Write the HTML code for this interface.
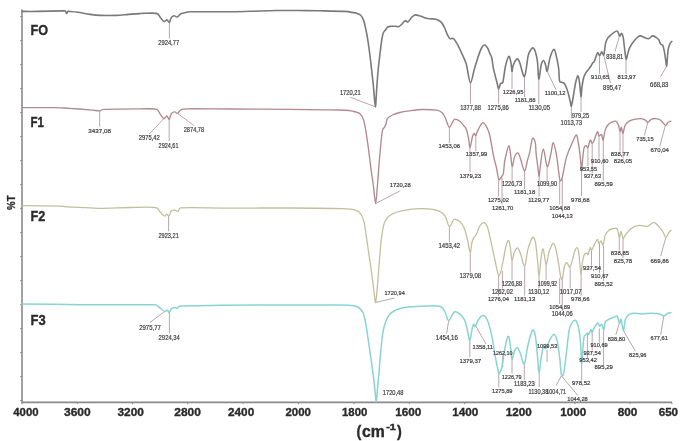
<!DOCTYPE html><html><head><meta charset="utf-8"><style>html,body{margin:0;padding:0;background:#fff;}svg{display:block;filter:blur(0.55px);}text{font-family:"Liberation Sans",sans-serif;}</style></head><body>
<svg width="685" height="441" viewBox="0 0 685 441">
<rect width="685" height="441" fill="#fff"/>
<path d="M22,9.5 L22,402.4 L672,402.4" fill="none" stroke="#8a8a8a" stroke-width="1.6"/>
<path d="M20.2,16.6 L22,16.6 M20.2,40.6 L22,40.6 M20.2,64.6 L22,64.6 M20.2,88.6 L22,88.6 M20.2,112.6 L22,112.6 M20.2,136.6 L22,136.6 M20.2,160.6 L22,160.6 M20.2,184.6 L22,184.6 M20.2,208.6 L22,208.6 M20.2,232.6 L22,232.6 M20.2,256.6 L22,256.6 M20.2,280.6 L22,280.6 M20.2,304.6 L22,304.6 M20.2,328.6 L22,328.6 M20.2,352.6 L22,352.6 M20.2,376.6 L22,376.6 M20.2,400.6 L22,400.6" stroke="#8a8a8a" stroke-width="1"/>
<path d="M22.0,402.4 L22.0,404.2 M77.2,402.4 L77.2,404.2 M132.4,402.4 L132.4,404.2 M187.6,402.4 L187.6,404.2 M243.0,402.4 L243.0,404.2 M298.5,402.4 L298.5,404.2 M354.0,402.4 L354.0,404.2 M409.3,402.4 L409.3,404.2 M464.6,402.4 L464.6,404.2 M519.8,402.4 L519.8,404.2 M575.0,402.4 L575.0,404.2 M630.1,402.4 L630.1,404.2 M671.9,402.4 L671.9,404.2" stroke="#8a8a8a" stroke-width="1"/>
<path d="M169.4,22.4 L169.4,38.5 M350.4,97.3 L375.3,106.8 M470.5,83.0 L470.5,103.7 M498.6,89.0 L498.6,103.7 M512.0,71.4 L512.0,89.0 M524.5,76.5 L524.5,97.0 M538.8,79.0 L538.8,104.0 M547.1,71.1 L555.9,89.4 M581.0,96.5 L581.0,112.0 M571.4,106.0 L571.4,118.5 M599.5,56.0 L599.5,74.0 M603.9,56.0 L610.4,83.1 M619.1,37.3 L615.0,51.6 M626.0,58.6 L626.0,74.0 M666.7,66.0 L660.4,77.1 M99.7,110.8 L99.7,126.5 M163.7,118.7 L149.3,134.0 M169.2,119.3 L169.2,141.0 M177.5,113.4 L194.2,125.8 M375.6,203.5 L399.8,191.0 M449.4,127.2 L449.4,143.0 M475.8,135.5 L475.8,151.0 M470.0,147.5 L470.0,172.5 M498.6,179.0 L498.6,196.5 M502.0,176.5 L502.0,204.4 M512.1,166.4 L512.1,181.0 M524.6,171.0 L524.6,189.0 M539.1,177.0 L539.1,196.5 M547.1,166.4 L547.1,181.0 M559.7,180.0 L559.7,204.4 M562.3,179.0 L562.3,212.5 M581.5,170.0 L581.5,196.0 M587.9,147.5 L587.9,166.0 M592.2,143.4 L592.2,173.5 M599.0,135.9 L599.0,158.5 M603.3,139.6 L603.3,181.0 M620.0,131.4 L620.0,151.5 M623.0,133.5 L623.0,158.5 M647.9,122.2 L644.4,135.5 M665.4,125.3 L659.7,146.7 M168.6,216.0 L168.6,231.1 M375.6,302.5 L394.4,298.0 M449.4,226.7 L449.4,242.0 M470.3,252.8 L470.3,272.5 M512.0,260.1 L512.0,280.0 M502.4,271.0 L502.4,288.5 M498.6,275.0 L498.6,296.0 M524.7,266.2 L524.7,295.5 M539.0,277.0 L539.0,288.5 M546.1,264.2 L546.1,280.0 M570.2,268.3 L570.2,288.5 M581.1,274.0 L581.1,296.0 M559.7,278.0 L559.7,304.0 M562.3,278.0 L562.3,311.0 M591.5,250.4 L591.5,265.5 M599.5,243.6 L599.5,273.0 M603.6,245.8 L603.6,281.0 M619.3,237.6 L619.3,250.5 M623.0,238.6 L623.0,258.0 M665.8,237.6 L660.7,256.0 M164.8,311.4 L149.7,322.6 M169.4,312.7 L169.4,333.1 M448.7,320.6 L446.6,333.5 M469.8,340.4 L469.8,357.0 M476.0,326.5 L486.0,344.0 M502.7,367.2 L502.7,355.5 M512.0,359.1 L512.0,373.5 M524.3,364.2 L524.3,380.0 M498.8,373.4 L498.8,387.5 M539.2,372.3 L539.2,387.0 M547.1,350.0 L547.1,362.0 M561.4,375.8 L556.1,385.6 M561.4,375.8 L577.8,395.5 M581.7,366.0 L581.7,380.5 M587.4,333.1 L587.4,358.0 M592.2,332.4 L592.2,350.5 M599.3,328.5 L599.3,342.5 M603.6,330.6 L603.6,365.0 M619.3,323.5 L615.9,334.7 M623.4,330.6 L635.3,351.0 M663.8,315.9 L660.7,334.7" stroke="#b49aa0" stroke-width="0.9" fill="none"/>
<path d="M22.00,11.40 C24.58,11.40 30.53,11.48 37.50,11.40 C44.47,11.32 59.13,10.93 63.80,10.90 C65.50,10.87 65.03,10.73 65.50,11.20 C65.97,11.67 66.22,13.68 66.60,13.70 C66.98,13.72 67.40,11.68 67.80,11.30 C68.20,10.92 67.80,11.23 69.00,11.40 C70.67,11.57 74.30,11.80 77.80,12.30 C81.30,12.80 86.20,13.88 90.00,14.40 C93.80,14.92 96.22,15.23 100.60,15.40 C104.98,15.57 111.63,15.57 116.30,15.40 C120.97,15.23 124.65,14.70 128.60,14.40 C132.55,14.10 137.72,13.77 140.00,13.60 C142.28,13.43 140.00,13.43 142.30,13.40 C145.03,13.37 153.38,12.72 156.40,13.40 C159.42,14.08 159.13,16.13 160.40,17.50 C161.67,18.87 162.92,21.20 164.00,21.60 C165.08,22.00 166.00,19.77 166.90,19.90 C167.80,20.03 168.72,22.70 169.40,22.40 C170.08,22.10 170.25,19.20 171.00,18.10 C171.75,17.00 172.83,16.00 173.90,15.80 C174.97,15.60 176.23,17.23 177.40,16.90 C178.57,16.57 179.35,14.57 180.90,13.80 C182.45,13.03 185.15,12.63 186.70,12.30 C188.25,11.97 186.70,11.88 190.20,11.80 C196.92,11.72 217.03,11.88 227.00,11.80 C236.97,11.72 241.83,11.52 250.00,11.30 C258.17,11.08 268.00,10.63 276.00,10.50 C284.00,10.37 290.83,10.45 298.00,10.50 C305.17,10.55 311.23,10.65 319.00,10.80 C326.77,10.95 339.12,11.13 344.60,11.40 C350.08,11.67 349.95,12.12 351.90,12.40 C353.85,12.68 354.83,12.62 356.30,13.10 C357.77,13.58 359.48,14.08 360.70,15.30 C361.92,16.52 362.75,18.08 363.60,20.40 C364.45,22.72 365.12,26.03 365.80,29.20 C366.48,32.37 367.08,35.60 367.70,39.40 C368.32,43.20 368.85,46.97 369.50,52.00 C370.15,57.03 370.98,64.23 371.60,69.60 C372.22,74.97 372.72,79.33 373.20,84.20 C373.68,89.07 374.12,95.00 374.50,98.80 C374.88,102.60 375.23,107.00 375.50,107.00 C375.77,107.00 375.85,102.60 376.10,98.80 C376.35,95.00 376.65,89.07 377.00,84.20 C377.35,79.33 377.67,74.97 378.20,69.60 C378.73,64.23 379.58,57.10 380.20,52.00 C380.82,46.90 381.38,42.20 381.90,39.00 C382.42,35.80 382.70,34.32 383.30,32.80 C383.90,31.28 384.77,30.87 385.50,29.90 C386.23,28.93 386.73,27.60 387.70,27.00 C388.67,26.40 389.97,26.42 391.30,26.30 C392.63,26.18 394.48,26.23 395.70,26.30 C396.92,26.37 397.63,27.00 398.60,26.70 C399.57,26.40 400.40,25.50 401.50,24.50 C402.60,23.50 404.10,21.13 405.20,20.70 C406.30,20.27 407.00,22.48 408.10,21.90 C409.20,21.32 410.58,18.37 411.80,17.20 C413.02,16.03 413.95,15.08 415.40,14.90 C416.85,14.72 418.67,15.55 420.50,16.10 C422.33,16.65 424.82,17.75 426.40,18.20 C427.98,18.65 428.42,18.63 430.00,18.80 C431.58,18.97 434.05,18.65 435.90,19.20 C437.75,19.75 439.63,20.63 441.10,22.10 C442.57,23.57 443.65,25.90 444.70,28.00 C445.75,30.10 446.53,32.93 447.40,34.70 C448.27,36.47 448.87,37.95 449.90,38.60 C450.93,39.25 452.37,37.67 453.60,38.60 C454.83,39.53 455.95,41.78 457.30,44.20 C458.65,46.62 460.23,49.90 461.70,53.10 C463.17,56.30 465.13,60.58 466.10,63.40 C467.07,66.22 466.77,66.73 467.50,70.00 C468.23,73.27 469.38,83.05 470.50,83.00 C471.62,82.95 473.20,73.20 474.20,69.70 C475.20,66.20 475.63,64.77 476.50,62.00 C477.37,59.23 478.42,55.68 479.40,53.10 C480.38,50.52 481.48,47.85 482.40,46.50 C483.32,45.15 484.05,44.77 484.90,45.00 C485.75,45.23 486.70,46.55 487.50,47.90 C488.30,49.25 488.97,51.37 489.70,53.10 C490.43,54.83 491.28,55.77 491.90,58.30 C492.52,60.83 492.53,64.18 493.40,68.30 C494.27,72.42 496.23,79.57 497.10,83.00 C497.97,86.43 498.02,88.82 498.60,88.90 C499.18,88.98 499.90,84.58 500.60,83.50 C501.30,82.42 502.15,84.32 502.80,82.40 C503.45,80.48 504.00,74.95 504.50,72.00 C505.00,69.05 505.08,67.32 505.80,64.70 C506.52,62.08 507.93,56.58 508.80,56.30 C509.67,56.02 510.47,60.48 511.00,63.00 C511.53,65.52 511.67,70.90 512.00,71.40 C512.33,71.90 512.42,67.82 513.00,66.00 C513.58,64.18 514.70,61.67 515.50,60.50 C516.30,59.33 517.05,58.52 517.80,59.00 C518.55,59.48 518.88,60.48 520.00,63.40 C521.12,66.32 523.15,77.73 524.50,76.50 C525.85,75.27 527.15,60.27 528.10,56.00 C529.05,51.73 529.43,52.25 530.20,50.90 C530.97,49.55 531.85,47.78 532.70,47.90 C533.55,48.02 534.50,49.25 535.30,51.60 C536.10,53.95 536.92,57.43 537.50,62.00 C538.08,66.57 538.18,78.50 538.80,79.00 C539.42,79.50 540.42,68.08 541.20,65.00 C541.98,61.92 542.77,60.50 543.50,60.50 C544.23,60.50 544.98,63.25 545.60,65.00 C546.22,66.75 546.45,72.25 547.20,71.00 C547.95,69.75 549.00,61.10 550.10,57.50 C551.20,53.90 552.82,49.88 553.80,49.40 C554.78,48.92 555.20,51.50 556.00,54.60 C556.80,57.70 558.02,63.67 558.60,68.00 C559.18,72.33 559.03,78.23 559.50,80.60 C559.97,82.97 560.68,81.80 561.40,82.20 C562.12,82.60 563.13,82.47 563.80,83.00 C564.47,83.53 564.73,83.95 565.40,85.40 C566.07,86.85 567.00,89.05 567.80,91.70 C568.60,94.35 569.60,98.92 570.20,101.30 C570.80,103.68 570.88,106.80 571.40,106.00 C571.92,105.20 572.58,100.47 573.30,96.50 C574.02,92.53 574.90,85.63 575.70,82.20 C576.50,78.77 577.43,75.63 578.10,75.90 C578.77,76.17 579.22,80.37 579.70,83.80 C580.18,87.23 580.62,95.97 581.00,96.50 C581.38,97.03 581.55,90.17 582.00,87.00 C582.45,83.83 583.03,79.88 583.70,77.50 C584.37,75.12 585.22,74.03 586.00,72.70 C586.78,71.37 587.60,70.57 588.40,69.50 C589.20,68.43 590.07,67.43 590.80,66.30 C591.53,65.17 592.25,63.45 592.80,62.70 C593.35,61.95 593.63,62.62 594.10,61.80 C594.57,60.98 595.00,59.32 595.60,57.80 C596.20,56.28 597.02,53.05 597.70,52.70 C598.38,52.35 599.03,55.85 599.70,55.70 C600.37,55.55 601.02,51.88 601.70,51.80 C602.38,51.72 603.28,55.73 603.80,55.20 C604.32,54.67 604.47,50.73 604.80,48.60 C605.13,46.47 605.28,44.18 605.80,42.40 C606.32,40.62 607.13,39.08 607.90,37.90 C608.67,36.72 609.47,36.15 610.40,35.30 C611.33,34.45 612.45,33.52 613.50,32.80 C614.55,32.08 615.88,31.00 616.70,31.00 C617.52,31.00 617.92,31.92 618.40,32.80 C618.88,33.68 619.07,36.22 619.60,36.30 C620.13,36.38 621.00,33.13 621.60,33.30 C622.20,33.47 622.77,35.27 623.20,37.30 C623.63,39.33 623.87,42.77 624.20,45.50 C624.53,48.23 624.87,51.40 625.20,53.70 C625.53,56.00 625.77,59.30 626.20,59.30 C626.63,59.30 627.28,55.48 627.80,53.70 C628.32,51.92 628.63,50.22 629.30,48.60 C629.97,46.98 630.87,45.45 631.80,44.00 C632.73,42.55 633.87,41.10 634.90,39.90 C635.93,38.70 637.05,37.47 638.00,36.80 C638.95,36.13 639.52,35.78 640.60,35.90 C641.68,36.02 643.18,37.03 644.50,37.50 C645.82,37.97 647.17,38.97 648.50,38.70 C649.83,38.43 651.32,36.17 652.50,35.90 C653.68,35.63 654.55,36.45 655.60,37.10 C656.65,37.75 658.00,38.68 658.80,39.80 C659.60,40.92 659.73,42.87 660.40,43.80 C661.07,44.73 662.13,44.08 662.80,45.40 C663.47,46.72 663.93,49.32 664.40,51.70 C664.87,54.08 665.22,57.32 665.60,59.70 C665.98,62.08 666.38,66.53 666.70,66.00 C667.02,65.47 667.23,59.40 667.50,56.50 C667.77,53.60 667.90,50.72 668.30,48.60 C668.70,46.48 669.32,45.00 669.90,43.80 C670.48,42.60 671.48,41.80 671.80,41.40" fill="none" stroke="#7a7a7a" stroke-width="1.6" stroke-linejoin="round" stroke-linecap="round"/>
<path d="M22.00,107.60 C27.50,107.60 47.17,107.48 55.00,107.60 C62.83,107.72 63.17,107.92 69.00,108.30 C74.83,108.68 84.88,109.48 90.00,109.90 C95.12,110.32 97.37,110.88 99.70,110.80 C102.03,110.72 99.70,109.73 104.00,109.40 C110.72,109.07 131.37,108.83 140.00,108.80 C148.63,108.77 152.52,108.43 155.80,109.20 C159.08,109.97 158.38,111.82 159.70,113.40 C161.02,114.98 162.50,118.27 163.70,118.70 C164.90,119.13 165.98,115.90 166.90,116.00 C167.82,116.10 168.43,119.73 169.20,119.30 C169.97,118.87 170.57,114.65 171.50,113.40 C172.43,112.15 173.80,111.80 174.80,111.80 C175.80,111.80 176.52,113.68 177.50,113.40 C178.48,113.12 179.07,110.87 180.70,110.10 C182.33,109.33 180.70,108.98 187.30,108.80 C195.52,108.62 212.88,108.92 230.00,109.00 C247.12,109.08 271.68,109.13 290.00,109.30 C308.32,109.47 329.50,109.68 339.90,110.00 C350.30,110.32 349.07,110.58 352.40,111.20 C355.73,111.82 358.03,112.23 359.90,113.70 C361.77,115.17 362.57,116.88 363.60,120.00 C364.63,123.12 365.27,127.42 366.10,132.40 C366.93,137.38 367.77,143.65 368.60,149.90 C369.43,156.15 370.27,163.67 371.10,169.90 C371.93,176.13 372.85,181.70 373.60,187.30 C374.35,192.90 374.98,203.50 375.60,203.50 C376.22,203.50 376.80,192.90 377.30,187.30 C377.80,181.70 378.10,176.13 378.60,169.90 C379.10,163.67 379.68,156.35 380.30,149.90 C380.92,143.45 381.63,134.95 382.30,131.20 C382.97,127.45 383.67,128.65 384.30,127.40 C384.93,126.15 385.60,125.15 386.10,123.70 C386.60,122.25 386.27,120.15 387.30,118.70 C388.33,117.25 390.22,116.03 392.30,115.00 C394.38,113.97 397.00,113.18 399.80,112.50 C402.60,111.82 405.28,111.40 409.10,110.90 C412.92,110.40 418.17,109.62 422.70,109.50 C427.23,109.38 433.08,109.70 436.30,110.20 C439.52,110.70 440.48,111.18 442.00,112.50 C443.52,113.82 444.17,115.65 445.40,118.10 C446.63,120.55 447.90,127.00 449.40,127.20 C450.90,127.40 452.62,120.25 454.40,119.30 C456.18,118.35 458.53,120.40 460.10,121.50 C461.67,122.60 462.78,124.65 463.80,125.90 C464.82,127.15 465.40,126.88 466.20,129.00 C467.00,131.12 467.97,135.52 468.60,138.60 C469.23,141.68 469.35,147.85 470.00,147.50 C470.65,147.15 471.80,138.83 472.50,136.50 C473.20,134.17 473.65,133.67 474.20,133.50 C474.75,133.33 475.15,136.12 475.80,135.50 C476.45,134.88 476.92,131.93 478.10,129.80 C479.28,127.67 481.37,122.95 482.90,122.70 C484.43,122.45 486.12,126.00 487.30,128.30 C488.48,130.60 488.97,131.92 490.00,136.50 C491.03,141.08 492.43,150.63 493.50,155.80 C494.57,160.97 495.52,163.60 496.40,167.50 C497.28,171.40 497.92,177.73 498.80,179.20 C499.68,180.67 500.93,177.27 501.70,176.30 C502.47,175.33 502.92,175.83 503.40,173.40 C503.88,170.97 504.10,165.02 504.60,161.70 C505.10,158.38 505.70,156.17 506.40,153.50 C507.10,150.83 508.13,145.80 508.80,145.70 C509.47,145.60 509.83,149.45 510.40,152.90 C510.97,156.35 511.52,165.73 512.20,166.40 C512.88,167.07 513.53,159.15 514.50,156.90 C515.47,154.65 516.98,152.55 518.00,152.90 C519.02,153.25 519.52,155.98 520.60,159.00 C521.68,162.02 523.37,170.75 524.50,171.00 C525.63,171.25 526.53,163.62 527.40,160.50 C528.27,157.38 528.87,155.95 529.70,152.30 C530.53,148.65 531.47,140.20 532.40,138.60 C533.33,137.00 534.68,140.22 535.30,142.70 C535.92,145.18 535.67,149.37 536.10,153.50 C536.53,157.63 537.40,163.60 537.90,167.50 C538.40,171.40 538.72,176.90 539.10,176.90 C539.48,176.90 539.50,172.15 540.20,167.50 C540.90,162.85 542.13,149.18 543.30,149.00 C544.47,148.82 545.97,165.45 547.20,166.40 C548.43,167.35 549.68,158.65 550.70,154.70 C551.72,150.75 552.32,142.52 553.30,142.70 C554.28,142.88 555.67,150.68 556.60,155.80 C557.53,160.92 558.32,169.30 558.90,173.40 C559.48,177.50 559.62,179.43 560.10,180.40 C560.58,181.37 561.22,180.77 561.80,179.20 C562.38,177.63 562.92,174.32 563.60,171.00 C564.28,167.68 565.13,162.42 565.90,159.30 C566.67,156.18 567.33,154.62 568.20,152.30 C569.07,149.98 569.82,148.25 571.10,145.40 C572.38,142.55 574.77,136.10 575.90,135.20 C577.03,134.30 577.27,137.17 577.90,140.00 C578.53,142.83 579.17,147.90 579.70,152.20 C580.23,156.50 580.78,162.83 581.10,165.80 C581.42,168.77 581.33,171.13 581.60,170.00 C581.87,168.87 582.30,162.65 582.70,159.00 C583.10,155.35 583.43,150.37 584.00,148.10 C584.57,145.83 585.45,145.50 586.10,145.40 C586.75,145.30 587.22,148.40 587.90,147.50 C588.58,146.60 589.48,140.68 590.20,140.00 C590.92,139.32 591.52,143.40 592.20,143.40 C592.88,143.40 593.43,141.93 594.30,140.00 C595.17,138.07 596.62,132.48 597.40,131.80 C598.18,131.12 598.32,135.45 599.00,135.90 C599.68,136.35 600.82,133.82 601.50,134.50 C602.18,135.18 602.50,140.68 603.10,140.00 C603.70,139.32 604.33,132.85 605.10,130.40 C605.87,127.95 606.58,126.67 607.70,125.30 C608.82,123.93 610.43,122.88 611.80,122.20 C613.17,121.52 614.78,120.68 615.90,121.20 C617.02,121.72 617.82,123.60 618.50,125.30 C619.18,127.00 619.52,131.07 620.00,131.40 C620.48,131.73 620.90,126.95 621.40,127.30 C621.90,127.65 622.38,133.83 623.00,133.50 C623.62,133.17 624.08,127.35 625.10,125.30 C626.12,123.25 627.40,122.22 629.10,121.20 C630.80,120.18 633.25,119.63 635.30,119.20 C637.35,118.77 639.72,118.43 641.40,118.60 C643.08,118.77 644.32,119.60 645.40,120.20 C646.48,120.80 646.87,122.37 647.90,122.20 C648.93,122.03 650.32,119.80 651.60,119.20 C652.88,118.60 654.08,118.43 655.60,118.60 C657.12,118.77 659.07,119.08 660.70,120.20 C662.33,121.32 664.20,124.90 665.40,125.30 C666.60,125.70 666.98,123.28 667.90,122.60 C668.82,121.92 670.40,121.43 670.90,121.20" fill="none" stroke="#b08a90" stroke-width="1.35" stroke-linejoin="round" stroke-linecap="round"/>
<path d="M22.00,205.60 C28.33,205.70 52.50,205.98 60.00,206.20 C67.00,206.42 63.67,206.72 67.00,206.90 C70.33,207.08 74.55,207.07 80.00,207.30 C85.45,207.53 91.37,208.27 99.70,208.30 C108.03,208.33 120.77,207.63 130.00,207.50 C139.23,207.37 150.15,206.85 155.10,207.50 C159.70,208.15 158.17,209.98 159.70,211.40 C161.23,212.82 163.10,215.55 164.30,216.00 C165.50,216.45 166.13,214.10 166.90,214.10 C167.67,214.10 168.13,216.55 168.90,216.00 C169.67,215.45 170.52,211.78 171.50,210.80 C172.48,209.82 173.70,210.00 174.80,210.10 C175.90,210.20 177.12,211.77 178.10,211.40 C179.08,211.03 178.10,208.45 180.70,207.90 C189.35,207.35 211.78,208.08 230.00,208.10 C248.22,208.12 271.30,207.92 290.00,208.00 C308.70,208.08 331.33,208.25 342.20,208.60 C353.07,208.95 352.17,209.32 355.20,210.10 C358.23,210.88 358.97,211.47 360.40,213.30 C361.83,215.13 362.80,217.20 363.80,221.10 C364.80,225.00 365.53,231.05 366.40,236.70 C367.27,242.35 368.12,248.90 369.00,255.00 C369.88,261.10 370.87,267.22 371.70,273.30 C372.53,279.38 373.35,286.63 374.00,291.50 C374.65,296.37 375.03,303.37 375.60,302.50 C376.17,301.63 376.80,292.92 377.40,286.30 C378.00,279.68 378.55,270.62 379.20,262.80 C379.85,254.98 380.60,245.48 381.30,239.40 C382.00,233.32 382.75,229.35 383.40,226.30 C384.05,223.25 384.25,222.83 385.20,221.10 C386.15,219.37 387.13,217.42 389.10,215.90 C391.07,214.38 393.52,213.10 397.00,212.00 C400.48,210.90 405.72,209.87 410.00,209.30 C414.28,208.73 418.70,208.53 422.70,208.60 C426.70,208.67 430.98,209.13 434.00,209.70 C437.02,210.27 438.90,210.87 440.80,212.00 C442.70,213.13 443.97,214.05 445.40,216.50 C446.83,218.95 447.97,226.20 449.40,226.70 C450.83,227.20 452.22,220.32 454.00,219.50 C455.78,218.68 458.33,220.22 460.10,221.80 C461.87,223.38 463.35,225.90 464.60,229.00 C465.85,232.10 466.67,236.50 467.60,240.40 C468.53,244.30 469.50,251.97 470.20,252.40 C470.90,252.83 471.25,245.40 471.80,243.00 C472.35,240.60 472.97,239.08 473.50,238.00 C474.03,236.92 474.42,237.33 475.00,236.50 C475.58,235.67 476.27,234.63 477.00,233.00 C477.73,231.37 478.33,228.42 479.40,226.70 C480.47,224.98 482.08,222.70 483.40,222.70 C484.72,222.70 486.08,223.75 487.30,226.70 C488.52,229.65 489.57,235.48 490.70,240.40 C491.83,245.32 492.97,250.92 494.10,256.20 C495.23,261.48 496.65,268.90 497.50,272.10 C498.35,275.30 498.58,275.70 499.20,275.40 C499.82,275.10 500.52,272.85 501.20,270.30 C501.88,267.75 502.45,264.35 503.30,260.10 C504.15,255.85 505.38,248.03 506.30,244.80 C507.22,241.57 508.12,240.18 508.80,240.70 C509.48,241.22 509.87,244.67 510.40,247.90 C510.93,251.13 511.32,259.43 512.00,260.10 C512.68,260.77 513.57,253.93 514.50,251.90 C515.43,249.87 516.58,247.55 517.60,247.90 C518.62,248.25 519.42,250.95 520.60,254.00 C521.78,257.05 523.50,266.88 524.70,266.20 C525.90,265.52 526.52,254.65 527.80,249.90 C529.08,245.15 531.15,239.07 532.40,237.70 C533.65,236.33 534.45,237.98 535.30,241.70 C536.15,245.42 536.88,254.12 537.50,260.00 C538.12,265.88 538.45,277.00 539.00,277.00 C539.55,277.00 540.12,264.68 540.80,260.00 C541.48,255.32 542.22,248.20 543.10,248.90 C543.98,249.60 545.12,263.68 546.10,264.20 C547.08,264.72 547.73,255.47 549.00,252.00 C550.27,248.53 552.32,242.73 553.70,243.40 C555.08,244.07 556.18,250.67 557.30,256.00 C558.42,261.33 559.70,271.57 560.40,275.40 C561.10,279.23 561.15,278.57 561.50,279.00 C561.85,279.43 562.00,280.13 562.50,278.00 C563.00,275.87 563.75,268.75 564.50,266.20 C565.25,263.65 566.12,262.50 567.00,262.70 C567.88,262.90 568.88,267.87 569.80,267.40 C570.72,266.93 571.72,262.50 572.50,259.90 C573.28,257.30 573.75,253.83 574.50,251.80 C575.25,249.77 576.32,247.70 577.00,247.70 C577.68,247.70 578.10,248.85 578.60,251.80 C579.10,254.75 579.58,261.70 580.00,265.40 C580.42,269.10 580.70,274.45 581.10,274.00 C581.50,273.55 581.92,265.83 582.40,262.70 C582.88,259.57 583.27,256.80 584.00,255.20 C584.73,253.60 586.12,253.22 586.80,253.10 C587.48,252.98 587.53,255.40 588.10,254.50 C588.67,253.60 589.63,248.38 590.20,247.70 C590.77,247.02 590.93,250.63 591.50,250.40 C592.07,250.17 592.65,248.12 593.60,246.30 C594.55,244.48 596.30,239.95 597.20,239.50 C598.10,239.05 598.37,243.37 599.00,243.60 C599.63,243.83 600.32,240.67 601.00,240.90 C601.68,241.13 602.42,245.88 603.10,245.00 C603.78,244.12 604.17,238.02 605.10,235.60 C606.03,233.18 607.25,231.68 608.70,230.50 C610.15,229.32 612.37,228.73 613.80,228.50 C615.23,228.27 616.38,227.58 617.30,229.10 C618.22,230.62 618.68,237.20 619.30,237.60 C619.92,238.00 620.38,231.33 621.00,231.50 C621.62,231.67 622.32,237.92 623.00,238.60 C623.68,239.28 623.73,237.28 625.10,235.60 C626.47,233.92 628.83,230.20 631.20,228.50 C633.57,226.80 636.58,225.75 639.30,225.40 C642.02,225.05 645.12,226.92 647.50,226.40 C649.88,225.88 651.90,222.47 653.60,222.30 C655.30,222.13 656.17,223.87 657.70,225.40 C659.23,226.93 661.45,229.47 662.80,231.50 C664.15,233.53 664.78,237.43 665.80,237.60 C666.82,237.77 668.05,233.68 668.90,232.50 C669.75,231.32 670.57,230.83 670.90,230.50" fill="none" stroke="#c0c09e" stroke-width="1.3" stroke-linejoin="round" stroke-linecap="round"/>
<path d="M22.00,303.90 C31.88,304.03 66.30,304.57 81.30,304.70 C96.30,304.83 100.08,304.70 112.00,304.70 C123.92,304.70 145.42,304.62 152.80,304.70 C156.30,304.78 155.07,304.63 156.30,305.20 C157.53,305.77 158.78,307.07 160.20,308.10 C161.62,309.13 163.58,311.07 164.80,311.40 C166.02,311.73 166.77,309.88 167.50,310.10 C168.23,310.32 168.55,312.92 169.20,312.70 C169.85,312.48 170.48,309.67 171.40,308.80 C172.32,307.93 173.72,307.57 174.70,307.50 C175.68,307.43 176.32,308.65 177.30,308.40 C178.28,308.15 177.30,306.52 180.60,306.00 C187.72,305.48 201.77,305.47 220.00,305.30 C238.23,305.13 270.02,305.05 290.00,305.00 C309.98,304.95 329.50,304.92 339.90,305.00 C350.30,305.08 349.28,305.08 352.40,305.50 C355.52,305.92 356.83,306.33 358.60,307.50 C360.37,308.67 361.85,310.02 363.00,312.50 C364.15,314.98 364.68,318.25 365.50,322.40 C366.32,326.55 367.08,331.98 367.90,337.40 C368.72,342.82 369.57,349.08 370.40,354.90 C371.23,360.72 372.15,366.48 372.90,372.30 C373.65,378.12 374.35,384.88 374.90,389.80 C375.45,394.72 375.78,401.80 376.20,401.80 C376.62,401.80 376.90,395.12 377.40,389.80 C377.90,384.48 378.62,376.55 379.20,369.90 C379.78,363.25 380.28,356.15 380.90,349.90 C381.52,343.65 382.15,336.98 382.90,332.40 C383.65,327.82 384.35,325.30 385.40,322.40 C386.45,319.50 387.63,316.98 389.20,315.00 C390.77,313.02 392.62,311.67 394.80,310.50 C396.98,309.33 399.55,308.62 402.30,308.00 C405.05,307.38 407.15,307.15 411.30,306.80 C415.45,306.45 422.28,305.90 427.20,305.90 C432.12,305.90 437.73,305.53 440.80,306.80 C443.87,308.07 444.28,311.20 445.60,313.50 C446.92,315.80 447.23,320.85 448.70,320.60 C450.17,320.35 452.50,313.05 454.40,312.00 C456.30,310.95 458.40,312.97 460.10,314.30 C461.80,315.63 463.35,317.17 464.60,320.00 C465.85,322.83 466.73,327.90 467.60,331.30 C468.47,334.70 469.05,340.78 469.80,340.40 C470.55,340.02 471.45,331.73 472.10,329.00 C472.75,326.27 473.17,324.38 473.70,324.00 C474.23,323.62 474.55,327.37 475.30,326.70 C476.05,326.03 476.95,321.88 478.20,320.00 C479.45,318.12 481.28,315.40 482.80,315.40 C484.32,315.40 485.80,316.60 487.30,320.00 C488.80,323.40 490.48,329.77 491.80,335.80 C493.12,341.83 494.17,350.50 495.20,356.20 C496.23,361.90 497.33,367.13 498.00,370.00 C498.67,372.87 498.57,373.87 499.20,373.40 C499.83,372.93 500.95,370.78 501.80,367.20 C502.65,363.62 503.48,356.48 504.30,351.90 C505.12,347.32 505.95,342.25 506.70,339.70 C507.45,337.15 508.18,335.58 508.80,336.60 C509.42,337.62 509.87,342.05 510.40,345.80 C510.93,349.55 511.32,358.25 512.00,359.10 C512.68,359.95 513.57,352.77 514.50,350.90 C515.43,349.03 516.58,347.38 517.60,347.90 C518.62,348.42 519.48,351.28 520.60,354.00 C521.72,356.72 523.10,365.57 524.30,364.20 C525.50,362.83 526.45,351.42 527.80,345.80 C529.15,340.18 531.15,332.20 532.40,330.50 C533.65,328.80 534.48,331.68 535.30,335.60 C536.12,339.52 536.68,347.88 537.30,354.00 C537.92,360.12 538.33,371.85 539.00,372.30 C539.67,372.75 540.55,360.92 541.30,356.70 C542.05,352.48 542.72,348.37 543.50,347.00 C544.28,345.63 544.92,349.78 546.00,348.50 C547.08,347.22 548.67,341.63 550.00,339.30 C551.33,336.97 552.80,334.23 554.00,334.50 C555.20,334.77 556.27,337.20 557.20,340.90 C558.13,344.60 558.90,351.12 559.60,356.70 C560.30,362.28 560.68,371.80 561.40,374.40 C562.12,377.00 563.05,376.05 563.90,372.30 C564.75,368.55 565.63,358.88 566.50,351.90 C567.37,344.92 568.22,335.23 569.10,330.40 C569.98,325.57 570.78,324.60 571.80,322.90 C572.82,321.20 574.18,319.85 575.20,320.20 C576.22,320.55 577.10,322.17 577.90,325.00 C578.70,327.83 579.48,332.90 580.00,337.20 C580.52,341.50 580.72,346.00 581.00,350.80 C581.28,355.60 581.42,366.00 581.70,366.00 C581.98,366.00 582.32,355.60 582.70,350.80 C583.08,346.00 583.55,339.80 584.00,337.20 C584.45,334.60 584.83,335.88 585.40,335.20 C585.97,334.52 586.83,333.22 587.40,333.10 C587.97,332.98 588.22,335.07 588.80,334.50 C589.38,333.93 590.33,330.05 590.90,329.70 C591.47,329.35 591.63,332.73 592.20,332.40 C592.77,332.07 593.38,329.28 594.30,327.70 C595.22,326.12 596.80,323.13 597.70,322.90 C598.60,322.67 599.03,326.07 599.70,326.30 C600.37,326.53 601.02,323.68 601.70,324.30 C602.38,324.92 603.23,330.32 603.80,330.00 C604.37,329.68 604.28,324.17 605.10,322.40 C605.92,320.63 607.25,320.25 608.70,319.40 C610.15,318.55 612.37,317.82 613.80,317.30 C615.23,316.78 616.38,315.27 617.30,316.30 C618.22,317.33 618.68,322.98 619.30,323.50 C619.92,324.02 620.32,318.22 621.00,319.40 C621.68,320.58 622.72,330.43 623.40,330.60 C624.08,330.77 624.32,322.95 625.10,320.40 C625.88,317.85 626.75,316.48 628.10,315.30 C629.45,314.12 630.98,313.53 633.20,313.30 C635.42,313.07 638.33,313.90 641.40,313.90 C644.47,313.90 648.55,313.30 651.60,313.30 C654.65,313.30 657.67,313.47 659.70,313.90 C661.73,314.33 662.43,316.00 663.80,315.90 C665.17,315.80 666.72,313.85 667.90,313.30 C669.08,312.75 670.40,312.72 670.90,312.60" fill="none" stroke="#8ad3d3" stroke-width="1.5" stroke-linejoin="round" stroke-linecap="round"/>
<text x="158.2" y="44.6" font-size="6.9" fill="#3c3c3c" stroke="#3c3c3c" stroke-width="0.2" textLength="21.0" lengthAdjust="spacingAndGlyphs">2924,77</text>
<text x="339.9" y="95.1" font-size="7.1" fill="#3c3c3c" stroke="#3c3c3c" stroke-width="0.2" textLength="20.8" lengthAdjust="spacingAndGlyphs">1720,21</text>
<text x="460.2" y="109.6" font-size="7.2" fill="#3c3c3c" stroke="#3c3c3c" stroke-width="0.2" textLength="20.7" lengthAdjust="spacingAndGlyphs">1377,88</text>
<text x="487.5" y="109.6" font-size="7.2" fill="#3c3c3c" stroke="#3c3c3c" stroke-width="0.2" textLength="21.4" lengthAdjust="spacingAndGlyphs">1275,86</text>
<text x="502.8" y="93.6" font-size="6.1" fill="#3c3c3c" stroke="#3c3c3c" stroke-width="0.2" textLength="20.6" lengthAdjust="spacingAndGlyphs">1226,95</text>
<text x="514.8" y="102.2" font-size="6.1" fill="#3c3c3c" stroke="#3c3c3c" stroke-width="0.2" textLength="20.7" lengthAdjust="spacingAndGlyphs">1181,88</text>
<text x="528.4" y="109.6" font-size="7.4" fill="#3c3c3c" stroke="#3c3c3c" stroke-width="0.2" textLength="21.7" lengthAdjust="spacingAndGlyphs">1130,05</text>
<text x="544.8" y="94.9" font-size="6.1" fill="#3c3c3c" stroke="#3c3c3c" stroke-width="0.2" textLength="20.6" lengthAdjust="spacingAndGlyphs">1100,12</text>
<text x="571.7" y="117.5" font-size="7.1" fill="#3c3c3c" stroke="#3c3c3c" stroke-width="0.2" textLength="17.5" lengthAdjust="spacingAndGlyphs">979,25</text>
<text x="560.6" y="125.0" font-size="7.6" fill="#3c3c3c" stroke="#3c3c3c" stroke-width="0.2" textLength="21.4" lengthAdjust="spacingAndGlyphs">1013,73</text>
<text x="591.1" y="79.0" font-size="6.0" fill="#3c3c3c" stroke="#3c3c3c" stroke-width="0.2" textLength="18.1" lengthAdjust="spacingAndGlyphs">910,65</text>
<text x="603.1" y="90.4" font-size="6.8" fill="#3c3c3c" stroke="#3c3c3c" stroke-width="0.2" textLength="18.1" lengthAdjust="spacingAndGlyphs">895,47</text>
<text x="606.3" y="59.3" font-size="6.4" fill="#3c3c3c" stroke="#3c3c3c" stroke-width="0.2" textLength="16.9" lengthAdjust="spacingAndGlyphs">838,81</text>
<text x="617.6" y="79.0" font-size="6.0" fill="#3c3c3c" stroke="#3c3c3c" stroke-width="0.2" textLength="18.1" lengthAdjust="spacingAndGlyphs">813,97</text>
<text x="650.1" y="86.7" font-size="6.7" fill="#3c3c3c" stroke="#3c3c3c" stroke-width="0.2" textLength="18.2" lengthAdjust="spacingAndGlyphs">668,83</text>
<text x="88.3" y="132.7" font-size="6.1" fill="#3c3c3c" stroke="#3c3c3c" stroke-width="0.2" textLength="22.7" lengthAdjust="spacingAndGlyphs">3437,08</text>
<text x="138.8" y="140.4" font-size="6.4" fill="#3c3c3c" stroke="#3c3c3c" stroke-width="0.2" textLength="21.0" lengthAdjust="spacingAndGlyphs">2975,42</text>
<text x="158.6" y="148.0" font-size="7.2" fill="#3c3c3c" stroke="#3c3c3c" stroke-width="0.2" textLength="19.9" lengthAdjust="spacingAndGlyphs">2924,61</text>
<text x="183.7" y="132.3" font-size="7.1" fill="#3c3c3c" stroke="#3c3c3c" stroke-width="0.2" textLength="20.5" lengthAdjust="spacingAndGlyphs">2874,78</text>
<text x="389.8" y="187.3" font-size="6.2" fill="#3c3c3c" stroke="#3c3c3c" stroke-width="0.2" textLength="21.0" lengthAdjust="spacingAndGlyphs">1720,28</text>
<text x="438.5" y="148.3" font-size="6.2" fill="#3c3c3c" stroke="#3c3c3c" stroke-width="0.2" textLength="21.6" lengthAdjust="spacingAndGlyphs">1453,06</text>
<text x="465.8" y="156.2" font-size="6.2" fill="#3c3c3c" stroke="#3c3c3c" stroke-width="0.2" textLength="21.5" lengthAdjust="spacingAndGlyphs">1357,99</text>
<text x="459.4" y="178.2" font-size="6.2" fill="#3c3c3c" stroke="#3c3c3c" stroke-width="0.2" textLength="21.8" lengthAdjust="spacingAndGlyphs">1379,23</text>
<text x="487.9" y="201.8" font-size="6.1" fill="#3c3c3c" stroke="#3c3c3c" stroke-width="0.2" textLength="21.0" lengthAdjust="spacingAndGlyphs">1275,02</text>
<text x="491.9" y="209.7" font-size="6.1" fill="#3c3c3c" stroke="#3c3c3c" stroke-width="0.2" textLength="21.4" lengthAdjust="spacingAndGlyphs">1261,70</text>
<text x="501.9" y="186.4" font-size="6.7" fill="#3c3c3c" stroke="#3c3c3c" stroke-width="0.2" textLength="20.1" lengthAdjust="spacingAndGlyphs">1226,73</text>
<text x="514.1" y="193.9" font-size="6.1" fill="#3c3c3c" stroke="#3c3c3c" stroke-width="0.2" textLength="21.1" lengthAdjust="spacingAndGlyphs">1181,18</text>
<text x="528.2" y="201.8" font-size="6.1" fill="#3c3c3c" stroke="#3c3c3c" stroke-width="0.2" textLength="21.0" lengthAdjust="spacingAndGlyphs">1129,77</text>
<text x="536.9" y="186.4" font-size="6.7" fill="#3c3c3c" stroke="#3c3c3c" stroke-width="0.2" textLength="20.2" lengthAdjust="spacingAndGlyphs">1099,90</text>
<text x="549.2" y="209.7" font-size="6.1" fill="#3c3c3c" stroke="#3c3c3c" stroke-width="0.2" textLength="21.0" lengthAdjust="spacingAndGlyphs">1054,68</text>
<text x="551.8" y="217.5" font-size="6.0" fill="#3c3c3c" stroke="#3c3c3c" stroke-width="0.2" textLength="21.0" lengthAdjust="spacingAndGlyphs">1044,13</text>
<text x="571.1" y="201.8" font-size="6.1" fill="#3c3c3c" stroke="#3c3c3c" stroke-width="0.2" textLength="18.4" lengthAdjust="spacingAndGlyphs">978,68</text>
<text x="580.0" y="170.6" font-size="6.0" fill="#3c3c3c" stroke="#3c3c3c" stroke-width="0.2" textLength="17.0" lengthAdjust="spacingAndGlyphs">953,55</text>
<text x="584.0" y="178.1" font-size="6.0" fill="#3c3c3c" stroke="#3c3c3c" stroke-width="0.2" textLength="17.0" lengthAdjust="spacingAndGlyphs">937,63</text>
<text x="591.0" y="162.6" font-size="6.0" fill="#3c3c3c" stroke="#3c3c3c" stroke-width="0.2" textLength="17.5" lengthAdjust="spacingAndGlyphs">910,60</text>
<text x="594.5" y="185.9" font-size="6.2" fill="#3c3c3c" stroke="#3c3c3c" stroke-width="0.2" textLength="18.3" lengthAdjust="spacingAndGlyphs">895,59</text>
<text x="610.8" y="155.9" font-size="6.0" fill="#3c3c3c" stroke="#3c3c3c" stroke-width="0.2" textLength="18.3" lengthAdjust="spacingAndGlyphs">838,77</text>
<text x="613.8" y="163.0" font-size="6.0" fill="#3c3c3c" stroke="#3c3c3c" stroke-width="0.2" textLength="18.4" lengthAdjust="spacingAndGlyphs">826,05</text>
<text x="636.3" y="140.6" font-size="6.2" fill="#3c3c3c" stroke="#3c3c3c" stroke-width="0.2" textLength="17.3" lengthAdjust="spacingAndGlyphs">735,15</text>
<text x="650.5" y="151.8" font-size="6.0" fill="#3c3c3c" stroke="#3c3c3c" stroke-width="0.2" textLength="18.4" lengthAdjust="spacingAndGlyphs">670,04</text>
<text x="158.4" y="238.4" font-size="7.4" fill="#3c3c3c" stroke="#3c3c3c" stroke-width="0.2" textLength="20.4" lengthAdjust="spacingAndGlyphs">2923,21</text>
<text x="384.4" y="295.4" font-size="6.1" fill="#3c3c3c" stroke="#3c3c3c" stroke-width="0.2" textLength="20.4" lengthAdjust="spacingAndGlyphs">1720,94</text>
<text x="438.5" y="247.6" font-size="6.9" fill="#3c3c3c" stroke="#3c3c3c" stroke-width="0.2" textLength="21.6" lengthAdjust="spacingAndGlyphs">1453,42</text>
<text x="459.4" y="278.4" font-size="7.2" fill="#3c3c3c" stroke="#3c3c3c" stroke-width="0.2" textLength="21.8" lengthAdjust="spacingAndGlyphs">1379,08</text>
<text x="501.9" y="285.7" font-size="6.8" fill="#3c3c3c" stroke="#3c3c3c" stroke-width="0.2" textLength="20.1" lengthAdjust="spacingAndGlyphs">1226,88</text>
<text x="491.9" y="293.9" font-size="6.5" fill="#3c3c3c" stroke="#3c3c3c" stroke-width="0.2" textLength="21.0" lengthAdjust="spacingAndGlyphs">1262,02</text>
<text x="487.9" y="300.9" font-size="6.1" fill="#3c3c3c" stroke="#3c3c3c" stroke-width="0.2" textLength="21.0" lengthAdjust="spacingAndGlyphs">1276,04</text>
<text x="514.1" y="300.9" font-size="6.1" fill="#3c3c3c" stroke="#3c3c3c" stroke-width="0.2" textLength="21.1" lengthAdjust="spacingAndGlyphs">1181,13</text>
<text x="528.2" y="293.9" font-size="6.5" fill="#3c3c3c" stroke="#3c3c3c" stroke-width="0.2" textLength="21.0" lengthAdjust="spacingAndGlyphs">1130,12</text>
<text x="537.8" y="285.7" font-size="6.8" fill="#3c3c3c" stroke="#3c3c3c" stroke-width="0.2" textLength="19.3" lengthAdjust="spacingAndGlyphs">1099,92</text>
<text x="559.7" y="293.9" font-size="6.5" fill="#3c3c3c" stroke="#3c3c3c" stroke-width="0.2" textLength="21.9" lengthAdjust="spacingAndGlyphs">1017,07</text>
<text x="571.1" y="300.9" font-size="6.1" fill="#3c3c3c" stroke="#3c3c3c" stroke-width="0.2" textLength="18.4" lengthAdjust="spacingAndGlyphs">978,66</text>
<text x="549.2" y="308.8" font-size="6.1" fill="#3c3c3c" stroke="#3c3c3c" stroke-width="0.2" textLength="21.0" lengthAdjust="spacingAndGlyphs">1054,89</text>
<text x="551.8" y="316.1" font-size="6.5" fill="#3c3c3c" stroke="#3c3c3c" stroke-width="0.2" textLength="21.0" lengthAdjust="spacingAndGlyphs">1044,06</text>
<text x="582.9" y="270.3" font-size="6.0" fill="#3c3c3c" stroke="#3c3c3c" stroke-width="0.2" textLength="18.1" lengthAdjust="spacingAndGlyphs">937,54</text>
<text x="591.0" y="277.7" font-size="6.0" fill="#3c3c3c" stroke="#3c3c3c" stroke-width="0.2" textLength="17.5" lengthAdjust="spacingAndGlyphs">910,67</text>
<text x="594.5" y="285.5" font-size="6.1" fill="#3c3c3c" stroke="#3c3c3c" stroke-width="0.2" textLength="18.3" lengthAdjust="spacingAndGlyphs">895,52</text>
<text x="610.8" y="255.0" font-size="6.0" fill="#3c3c3c" stroke="#3c3c3c" stroke-width="0.2" textLength="18.3" lengthAdjust="spacingAndGlyphs">838,85</text>
<text x="613.8" y="262.5" font-size="6.0" fill="#3c3c3c" stroke="#3c3c3c" stroke-width="0.2" textLength="18.4" lengthAdjust="spacingAndGlyphs">825,78</text>
<text x="650.5" y="262.5" font-size="6.0" fill="#3c3c3c" stroke="#3c3c3c" stroke-width="0.2" textLength="18.4" lengthAdjust="spacingAndGlyphs">669,86</text>
<text x="139.2" y="329.8" font-size="6.7" fill="#3c3c3c" stroke="#3c3c3c" stroke-width="0.2" textLength="21.7" lengthAdjust="spacingAndGlyphs">2975,77</text>
<text x="158.6" y="340.3" font-size="7.2" fill="#3c3c3c" stroke="#3c3c3c" stroke-width="0.2" textLength="21.3" lengthAdjust="spacingAndGlyphs">2924,34</text>
<text x="382.8" y="394.8" font-size="6.9" fill="#3c3c3c" stroke="#3c3c3c" stroke-width="0.2" textLength="20.7" lengthAdjust="spacingAndGlyphs">1720,48</text>
<text x="435.8" y="340.4" font-size="6.4" fill="#3c3c3c" stroke="#3c3c3c" stroke-width="0.2" textLength="22.0" lengthAdjust="spacingAndGlyphs">1454,16</text>
<text x="459.4" y="363.0" font-size="6.2" fill="#3c3c3c" stroke="#3c3c3c" stroke-width="0.2" textLength="21.8" lengthAdjust="spacingAndGlyphs">1379,37</text>
<text x="472.6" y="349.4" font-size="6.2" fill="#3c3c3c" stroke="#3c3c3c" stroke-width="0.2" textLength="20.4" lengthAdjust="spacingAndGlyphs">1358,11</text>
<text x="493.1" y="355.0" font-size="6.0" fill="#3c3c3c" stroke="#3c3c3c" stroke-width="0.2" textLength="19.3" lengthAdjust="spacingAndGlyphs">1262,10</text>
<text x="501.8" y="378.5" font-size="6.0" fill="#3c3c3c" stroke="#3c3c3c" stroke-width="0.2" textLength="19.8" lengthAdjust="spacingAndGlyphs">1226,79</text>
<text x="514.1" y="385.6" font-size="6.5" fill="#3c3c3c" stroke="#3c3c3c" stroke-width="0.2" textLength="20.6" lengthAdjust="spacingAndGlyphs">1183,23</text>
<text x="492.0" y="393.2" font-size="6.2" fill="#3c3c3c" stroke="#3c3c3c" stroke-width="0.2" textLength="20.5" lengthAdjust="spacingAndGlyphs">1275,89</text>
<text x="528.5" y="393.5" font-size="7.2" fill="#3c3c3c" stroke="#3c3c3c" stroke-width="0.2" textLength="19.8" lengthAdjust="spacingAndGlyphs">1130,38</text>
<text x="536.9" y="347.9" font-size="6.0" fill="#3c3c3c" stroke="#3c3c3c" stroke-width="0.2" textLength="20.4" lengthAdjust="spacingAndGlyphs">1099,53</text>
<text x="546.3" y="393.5" font-size="7.2" fill="#3c3c3c" stroke="#3c3c3c" stroke-width="0.2" textLength="19.7" lengthAdjust="spacingAndGlyphs">1004,71</text>
<text x="567.3" y="400.7" font-size="6.0" fill="#3c3c3c" stroke="#3c3c3c" stroke-width="0.2" textLength="20.4" lengthAdjust="spacingAndGlyphs">1044,28</text>
<text x="572.0" y="385.2" font-size="6.0" fill="#3c3c3c" stroke="#3c3c3c" stroke-width="0.2" textLength="18.4" lengthAdjust="spacingAndGlyphs">978,52</text>
<text x="579.3" y="362.4" font-size="6.0" fill="#3c3c3c" stroke="#3c3c3c" stroke-width="0.2" textLength="17.7" lengthAdjust="spacingAndGlyphs">953,42</text>
<text x="583.4" y="354.9" font-size="6.0" fill="#3c3c3c" stroke="#3c3c3c" stroke-width="0.2" textLength="17.6" lengthAdjust="spacingAndGlyphs">937,54</text>
<text x="590.4" y="347.3" font-size="6.0" fill="#3c3c3c" stroke="#3c3c3c" stroke-width="0.2" textLength="17.3" lengthAdjust="spacingAndGlyphs">910,69</text>
<text x="594.5" y="369.3" font-size="6.0" fill="#3c3c3c" stroke="#3c3c3c" stroke-width="0.2" textLength="18.3" lengthAdjust="spacingAndGlyphs">895,29</text>
<text x="607.7" y="340.8" font-size="6.0" fill="#3c3c3c" stroke="#3c3c3c" stroke-width="0.2" textLength="17.4" lengthAdjust="spacingAndGlyphs">838,80</text>
<text x="629.1" y="356.7" font-size="6.0" fill="#3c3c3c" stroke="#3c3c3c" stroke-width="0.2" textLength="17.4" lengthAdjust="spacingAndGlyphs">825,96</text>
<text x="650.5" y="340.4" font-size="6.0" fill="#3c3c3c" stroke="#3c3c3c" stroke-width="0.2" textLength="17.4" lengthAdjust="spacingAndGlyphs">677,61</text>
<text x="30.5" y="35.3" font-size="15.2" font-weight="bold" fill="#2a2a2a" stroke="#2a2a2a" stroke-width="0.35" textLength="17.5" lengthAdjust="spacingAndGlyphs" >FO</text>
<text x="30.5" y="126.9" font-size="15.2" font-weight="bold" fill="#2a2a2a" stroke="#2a2a2a" stroke-width="0.35" textLength="13.5" lengthAdjust="spacingAndGlyphs" >F1</text>
<text x="30.5" y="220.8" font-size="15.2" font-weight="bold" fill="#2a2a2a" stroke="#2a2a2a" stroke-width="0.35" textLength="14.9" lengthAdjust="spacingAndGlyphs" >F2</text>
<text x="30.5" y="324.5" font-size="15.2" font-weight="bold" fill="#2a2a2a" stroke="#2a2a2a" stroke-width="0.35" textLength="15.2" lengthAdjust="spacingAndGlyphs" >F3</text>
<text x="13.3" y="415.9" font-size="11.5" font-weight="bold" fill="#2a2a2a" stroke="#2a2a2a" stroke-width="0.35" textLength="25.3" lengthAdjust="spacingAndGlyphs" >4000</text>
<text x="64.0" y="415.9" font-size="11.5" font-weight="bold" fill="#2a2a2a" stroke="#2a2a2a" stroke-width="0.35" textLength="26.7" lengthAdjust="spacingAndGlyphs" >3600</text>
<text x="117.5" y="415.9" font-size="11.5" font-weight="bold" fill="#2a2a2a" stroke="#2a2a2a" stroke-width="0.35" textLength="26.4" lengthAdjust="spacingAndGlyphs" >3200</text>
<text x="174.3" y="415.9" font-size="11.5" font-weight="bold" fill="#2a2a2a" stroke="#2a2a2a" stroke-width="0.35" textLength="26.6" lengthAdjust="spacingAndGlyphs" >2800</text>
<text x="228.0" y="415.9" font-size="11.5" font-weight="bold" fill="#2a2a2a" stroke="#2a2a2a" stroke-width="0.35" textLength="26.2" lengthAdjust="spacingAndGlyphs" >2400</text>
<text x="285.4" y="415.9" font-size="11.5" font-weight="bold" fill="#2a2a2a" stroke="#2a2a2a" stroke-width="0.35" textLength="25.5" lengthAdjust="spacingAndGlyphs" >2000</text>
<text x="342.0" y="415.9" font-size="11.5" font-weight="bold" fill="#2a2a2a" stroke="#2a2a2a" stroke-width="0.35" textLength="25.3" lengthAdjust="spacingAndGlyphs" >1800</text>
<text x="395.3" y="415.9" font-size="11.5" font-weight="bold" fill="#2a2a2a" stroke="#2a2a2a" stroke-width="0.35" textLength="26.1" lengthAdjust="spacingAndGlyphs" >1600</text>
<text x="452.3" y="415.9" font-size="11.5" font-weight="bold" fill="#2a2a2a" stroke="#2a2a2a" stroke-width="0.35" textLength="26.1" lengthAdjust="spacingAndGlyphs" >1400</text>
<text x="505.7" y="415.9" font-size="11.5" font-weight="bold" fill="#2a2a2a" stroke="#2a2a2a" stroke-width="0.35" textLength="26.0" lengthAdjust="spacingAndGlyphs" >1200</text>
<text x="560.3" y="415.9" font-size="11.5" font-weight="bold" fill="#2a2a2a" stroke="#2a2a2a" stroke-width="0.35" textLength="26.0" lengthAdjust="spacingAndGlyphs" >1000</text>
<text x="617.7" y="415.9" font-size="11.5" font-weight="bold" fill="#2a2a2a" stroke="#2a2a2a" stroke-width="0.35" textLength="19.6" lengthAdjust="spacingAndGlyphs" >800</text>
<text x="658.7" y="415.9" font-size="11.5" font-weight="bold" fill="#2a2a2a" stroke="#2a2a2a" stroke-width="0.35" textLength="19.4" lengthAdjust="spacingAndGlyphs" >650</text>
<text transform="translate(14.9,209.9) rotate(-90)" font-size="10.6" font-weight="bold" fill="#2a2a2a" stroke="#2a2a2a" stroke-width="0.3" textLength="14.5" lengthAdjust="spacingAndGlyphs">%T</text>
<g font-weight="bold" fill="#2a2a2a" stroke="#2a2a2a" stroke-width="0.4"><text x="356.4" y="436.8" font-size="17.4" textLength="4.8" lengthAdjust="spacingAndGlyphs">(</text><text x="362.0" y="436.8" font-size="17.4" textLength="22.8" lengthAdjust="spacingAndGlyphs">cm</text><text x="386.2" y="429.8" font-size="8.5" textLength="9.8" lengthAdjust="spacingAndGlyphs">-1</text><text x="396.9" y="436.8" font-size="17.4" textLength="4.8" lengthAdjust="spacingAndGlyphs">)</text></g>
</svg></body></html>
